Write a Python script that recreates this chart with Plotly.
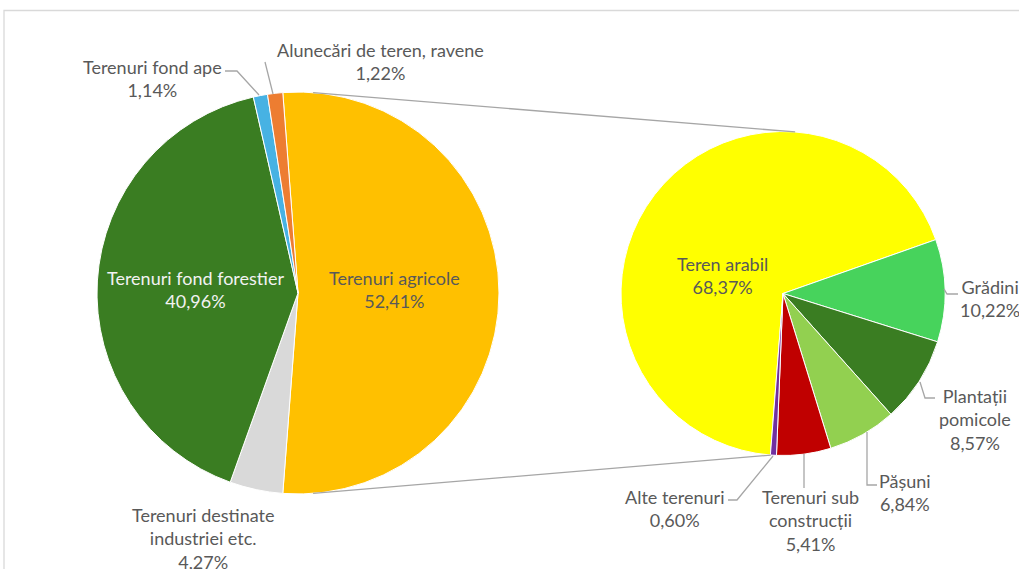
import math
import plotly.graph_objects as go

W, H = 1019, 569

# ---- data ----
main_labels = ["Terenuri agricole", "Terenuri destinate<br>industriei etc.", "Terenuri fond forestier",
               "Terenuri fond ape", "Alunecări de teren, ravene"]
main_values = [52.41, 4.27, 40.96, 1.14, 1.22]
main_text = ["52,41%", "4,27%", "40,96%", "1,14%", "1,22%"]
main_colors = ["#FFC000", "#D9D9D9", "#3A7D22", "#47B2E3", "#ED7D31"]

sub_labels = ["Teren arabil", "Grădini", "Plantații<br>pomicole", "Pășuni",
              "Terenuri sub<br>construcții", "Alte terenuri"]
sub_values = [68.37, 10.22, 8.57, 6.84, 5.41, 0.60]
sub_text = ["68,37%", "10,22%", "8,57%", "6,84%", "5,41%", "0,60%"]
sub_colors = ["#FFFF00", "#47D35C", "#3A7D22", "#92D050", "#C00000", "#7030A0"]

# ---- layout geometry (pixels) ----
L_CX, L_CY, L_R = 298, 293, 201
R_CX, R_CY, R_R = 783, 293.5, 162


def px(x):
    return x / W


def py(y):
    return 1 - y / H


def pie_domain(cx, cy, r):
    return dict(x=[px(cx - r), px(cx + r)], y=[py(cy + r), py(cy - r)])


# the split slice is centred at 3 o'clock on the first pie
main_rotation = 90 - main_values[0] / 100 * 360 / 2
# second pie: slice after the first one begins at this clockwise angle
start_gr = 70.6
sub_rotation = start_gr - sub_values[0] / 100 * 360

fig = go.Figure()
fig.add_trace(go.Pie(
    labels=[l.replace("<br>", " ") for l in main_labels], values=main_values,
    marker=dict(colors=main_colors, line=dict(color="white", width=1)),
    sort=False, direction="clockwise", rotation=main_rotation,
    textinfo="none", hoverinfo="label+percent", showlegend=False,
    domain=pie_domain(L_CX, L_CY, L_R),
))
fig.add_trace(go.Pie(
    labels=[l.replace("<br>", " ") for l in sub_labels], values=sub_values,
    marker=dict(colors=sub_colors, line=dict(color="white", width=1)),
    sort=False, direction="clockwise", rotation=sub_rotation,
    textinfo="none", hoverinfo="label+percent", showlegend=False,
    domain=pie_domain(R_CX, R_CY, R_R),
))

GRAY = "#595959"
LINE = "#A6A6A6"
FONT = "Lato"
FS = 18

# label block centres (pixels)
main_pos = [(394, 289), (203, 538), (195, 289), (152, 78), (380, 62)]
main_fc = [GRAY, GRAY, "#F2F2F2", GRAY, GRAY]
sub_pos = [(722, 275), (990, 298), (975, 419), (905, 492), (810, 520), (674, 508)]

annotations = []
for lab, t, (x, y), c in zip(main_labels, main_text, main_pos, main_fc):
    annotations.append(dict(x=px(x), y=py(y), xref="paper", yref="paper",
                            xanchor="center", yanchor="middle",
                            text=f"{lab}<br>{t}", showarrow=False, align="center",
                            font=dict(family=FONT, size=FS, color=c)))
for lab, t, (x, y) in zip(sub_labels, sub_text, sub_pos):
    annotations.append(dict(x=px(x), y=py(y), xref="paper", yref="paper",
                            xanchor="center", yanchor="middle",
                            text=f"{lab}<br>{t}", showarrow=False, align="center",
                            font=dict(family=FONT, size=FS, color=GRAY)))

shapes = []


def path(points, color=LINE, width=1.3):
    d = "M " + " L ".join(f"{px(x)},{py(y)}" for x, y in points)
    shapes.append(dict(type="path", path=d, xref="paper", yref="paper",
                       line=dict(color=color, width=width)))


def on_circle(cx, cy, r, ang):
    a = math.radians(ang)
    return cx + r * math.sin(a), cy - r * math.cos(a)


# connectors between pies
off = 4.3
path([on_circle(L_CX, L_CY, L_R, off), on_circle(R_CX, R_CY, R_R, off)])
path([on_circle(L_CX, L_CY, L_R, 180 - off), on_circle(R_CX, R_CY, R_R, 180 + off)])

# leader lines
path([(225, 71), (237, 71), (259, 95)])
path([(265, 62), (273, 94)])
path([(728, 500), (737, 500), (773, 456)])
path([(804, 454), (804, 488)])
path([(867, 432), (867, 485), (877, 485)])
path([(920, 382), (925, 398), (935, 398)])
path([(944, 289), (947, 294), (958, 294)])

# chart frame
path([(4, 580), (4, 10.5), (1030, 10.5)], color="#D9D9D9", width=1.3)

fig.update_layout(
    width=W, height=H, margin=dict(l=0, r=0, t=0, b=0),
    paper_bgcolor="white", plot_bgcolor="white",
    annotations=annotations, shapes=shapes,
    font=dict(family=FONT),
)
fig.write_html("out.html", config={"displayModeBar": False},
               post_script="document.body.style.margin='0';document.body.style.overflow='hidden';")
